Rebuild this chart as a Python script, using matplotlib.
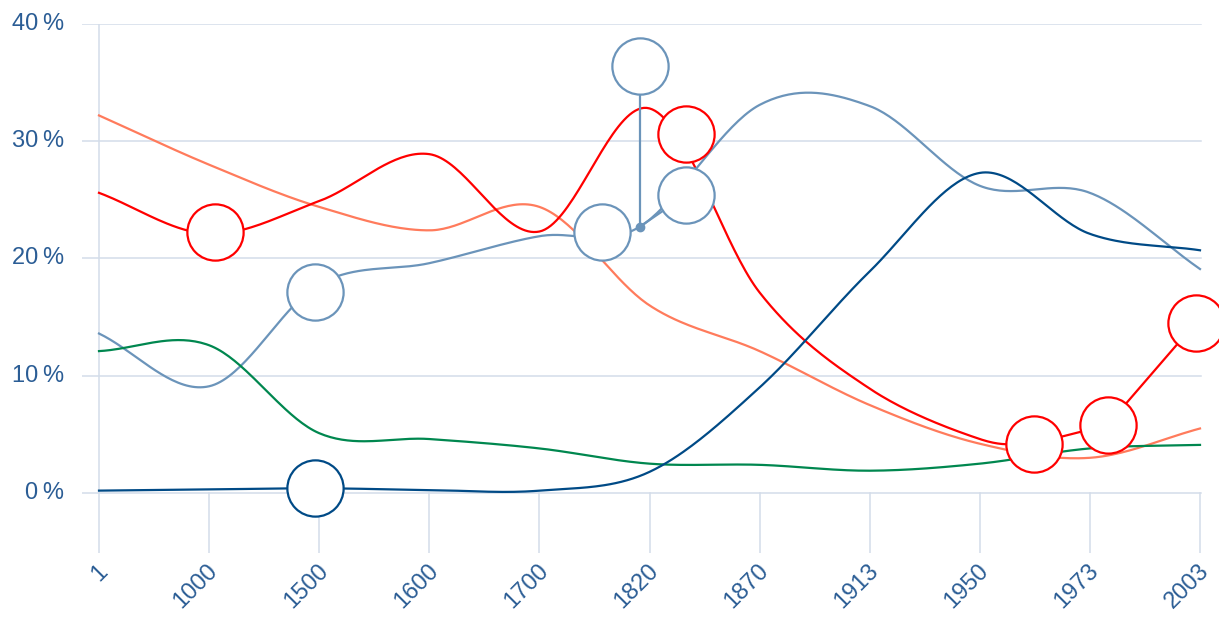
import numpy as np
import matplotlib as mpl
import matplotlib.pyplot as plt
from matplotlib.transforms import blended_transform_factory

mpl.use("Agg")

years = ["1", "1000", "1500", "1600", "1700", "1820", "1870", "1913", "1950", "1973", "2003"]
pos = np.arange(len(years), dtype=float)

# share of world GDP (%)
india = [32.2, 28.0, 24.4, 22.4, 24.4, 16.0, 12.1, 7.5, 4.2, 3.0, 5.5]
china = [25.6, 22.1, 24.9, 28.9, 22.3, 32.8, 17.1, 8.9, 4.6]
china_tail_x = [8.49, 9.16, 9.96]
china_tail = [4.2, 5.8, 14.5]
west_europe_x = [0, 1, 2, 3, 4, 4.91, 6, 7, 8, 9, 10]
west_europe = [13.6, 9.1, 17.8, 19.6, 21.9, 22.7, 33.1, 33.0, 26.2, 25.6, 19.1]
usa = [0.2, 0.3, 0.4, 0.25, 0.2, 1.8, 9.0, 18.9, 27.3, 22.1, 20.7]
other = [12.1, 12.6, 5.1, 4.6, 3.8, 2.5, 2.4, 1.9, 2.5, 3.8, 4.1]

# bubble markers (x in category units)
china_bubble_x = [1.054, 5.33, 8.49, 9.16, 9.96]
china_bubble = [22.3, 30.6, 4.2, 5.8, 14.5]
we_bubble_x = [1.96, 4.57, 4.91, 5.33]
we_bubble = [17.1, 22.3, 36.4, 25.4]
usa_bubble_x = [1.96]
usa_bubble = [0.4]
pin_x, pin_y = 4.91, 22.7

c_india = "#ff7b5c"
c_china = "#ff0000"
c_we = "#6b94ba"
c_usa = "#004a86"
c_other = "#00874f"
c_grid = "#d3dde9"
c_text = "#2b5d95"


def catmull_rom(xs, ys, n=40):
    p = np.column_stack([xs, ys]).astype(float)
    ext = np.vstack([2 * p[0] - p[1], p, 2 * p[-1] - p[-2]])
    t = np.linspace(0, 1, n)[:, None]
    h00 = 2 * t**3 - 3 * t**2 + 1
    h10 = t**3 - 2 * t**2 + t
    h01 = -2 * t**3 + 3 * t**2
    h11 = t**3 - t**2
    out = []
    for i in range(len(p) - 1):
        p0, p1, p2, p3 = ext[i], ext[i + 1], ext[i + 2], ext[i + 3]
        m1 = (p2 - p0) / 2
        m2 = (p3 - p1) / 2
        seg = h00 * p1 + h10 * m1 + h01 * p2 + h11 * m2
        out.append(seg if i == 0 else seg[1:])
    return np.vstack(out)


plt.rcParams["font.family"] = ["Liberation Sans", "DejaVu Sans"]
fig = plt.figure(figsize=(12.19, 6.20), dpi=100)
W, H = 1219, 620
ax = fig.add_axes([82 / W, 1 - 553 / H, (W - 82) / W, (553 - 24) / H])

dx = 110.1
ax.set_xlim((82 - 99) / dx, (W - 99) / dx)
ax.set_ylim(-5.12, 40)
ax.axis("off")

# grid
for v in range(0, 41, 10):
    ax.plot([(82 - 99) / dx, 10.01], [v, v], color=c_grid, lw=1.1, zorder=1)
ax.plot([0, 0], [-5.12, 40], color=c_grid, lw=1.1, zorder=1)
for x in pos[1:]:
    ax.plot([x, x], [-5.12, 0], color=c_grid, lw=1.1, zorder=1)

lw = 1.6
xy = catmull_rom(pos, india)
ax.plot(xy[:, 0], xy[:, 1], color=c_india, lw=lw, zorder=2)

xy = catmull_rom(list(pos[:9]) + china_tail_x[:1], china + china_tail[:1])
ax.plot(xy[:, 0], xy[:, 1], color=c_china, lw=lw, zorder=2)
ax.plot(china_tail_x, china_tail, color=c_china, lw=lw, zorder=2)

xy = catmull_rom(west_europe_x, west_europe)
ax.plot(xy[:, 0], xy[:, 1], color=c_we, lw=lw, zorder=2)
ax.plot([pin_x, pin_x], [pin_y, we_bubble[2]], color=c_we, lw=lw, zorder=2)
ax.plot([pin_x, we_bubble_x[3]], [pin_y, we_bubble[3]], color=c_we, lw=lw, zorder=2)

xy = catmull_rom(pos, other)
ax.plot(xy[:, 0], xy[:, 1], color=c_other, lw=lw, zorder=2)

xy = catmull_rom(pos, usa)
ax.plot(xy[:, 0], xy[:, 1], color=c_usa, lw=lw, zorder=2)

ax.plot([pin_x], [pin_y], "o", color=c_we, ms=6, zorder=3)

bubble_style = dict(ls="none", marker="o", ms=40.5, mfc="white", mew=1.6, zorder=5, clip_on=False)
ax.plot(china_bubble_x, china_bubble, mec=c_china, **bubble_style)
ax.plot(we_bubble_x, we_bubble, mec=c_we, **bubble_style)
ax.plot(usa_bubble_x, usa_bubble, mec=c_usa, **bubble_style)

# y labels
trans = blended_transform_factory(fig.transFigure, ax.transData)
for v in range(0, 41, 10):
    fig.text(64 / W, 0, f"{v}\u2009%", transform=trans, ha="right", va="center",
             fontsize=17, color=c_text).set_y(v)

# x labels
trans = blended_transform_factory(ax.transData, fig.transFigure)
for x, lab in zip(pos, years):
    ax.text(x + 0.05, 1 - 568 / H, lab, transform=trans, rotation=45,
            rotation_mode="anchor", ha="right", va="center",
            fontsize=17, color=c_text, clip_on=False)

fig.savefig("out.png", dpi=100)
